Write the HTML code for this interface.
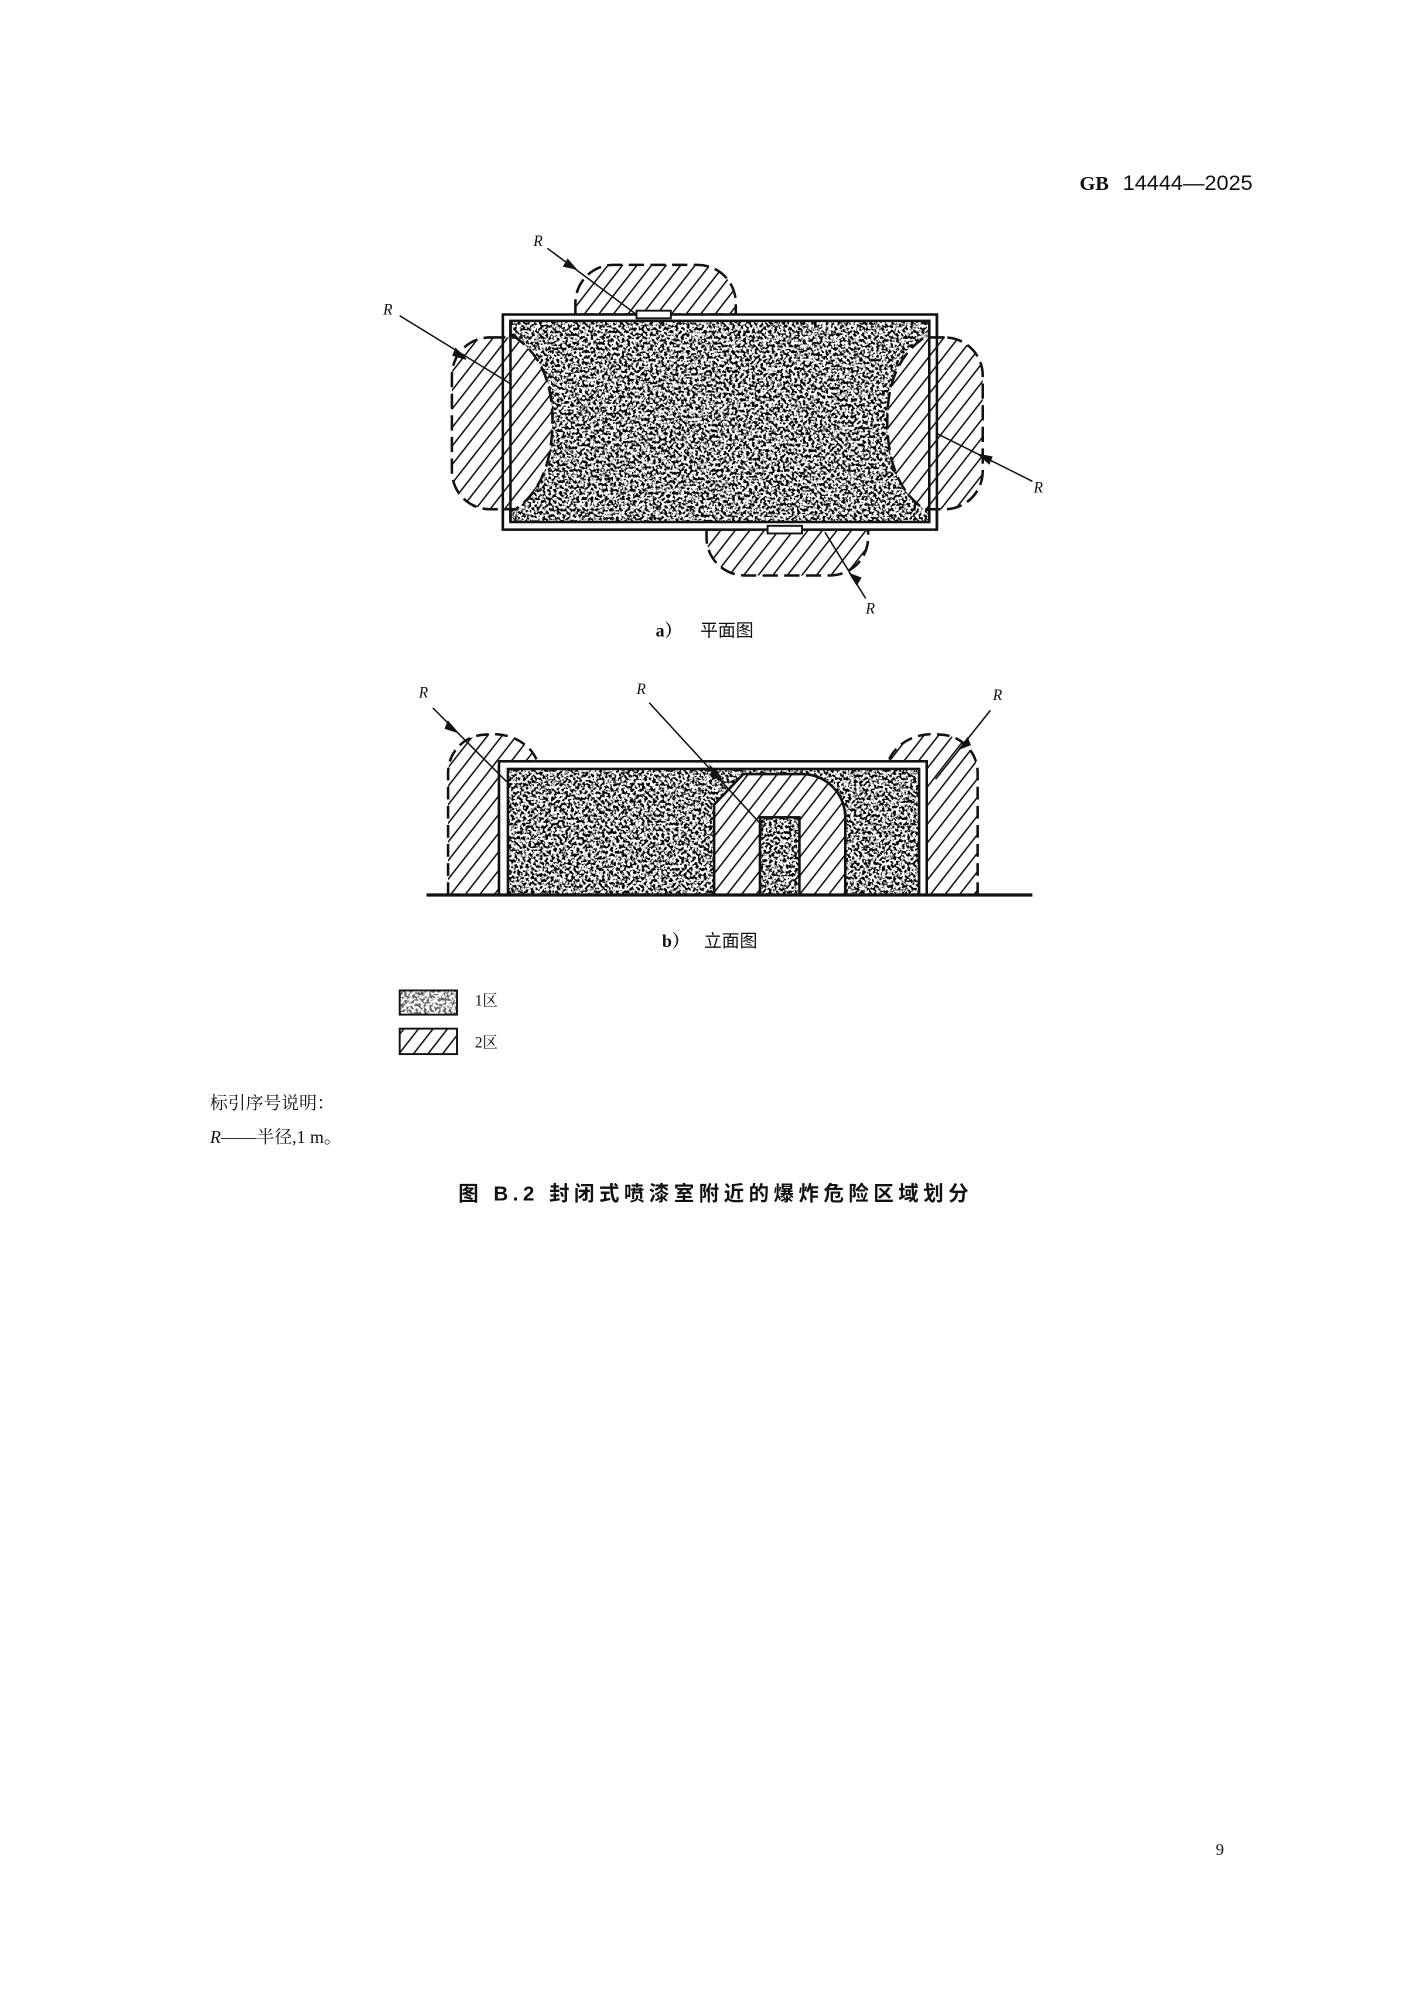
<!DOCTYPE html>
<html><head><meta charset="utf-8"><style>
html,body{margin:0;padding:0;background:#fff;}
svg{display:block;}
text{font-family:"Liberation Serif","Noto Serif CJK SC",serif;fill:#111;}
text.cjk{font-family:"Liberation Sans","Noto Sans CJK SC",sans-serif;}
text.sans{font-family:"Liberation Sans",sans-serif;}
</style></head><body>
<svg width="1413" height="2000" viewBox="0 0 1110 1571" xmlns="http://www.w3.org/2000/svg">
<defs>
<filter id="st" x="0" y="0" width="1" height="1" filterUnits="objectBoundingBox">
<feTurbulence type="fractalNoise" baseFrequency="0.45" numOctaves="2" seed="7"/>
<feColorMatrix type="matrix" values="0 0 0 0 0  0 0 0 0 0  0 0 0 0 0  -7 0 0 0 3.85"/>
</filter>
<pattern id="hatch" width="9" height="9" patternUnits="userSpaceOnUse" patternTransform="rotate(38)">
<rect width="9" height="9" fill="#fff"/>
<line x1="0" y1="0" x2="0" y2="9" stroke="#111" stroke-width="2.4"/>
</pattern>
<clipPath id="planIn"><rect x="401" y="252" width="329" height="158"/></clipPath>
<clipPath id="elevIn"><rect x="399" y="604" width="323" height="99"/></clipPath>
<clipPath id="leg1"><rect x="314" y="778" width="45" height="19"/></clipPath>
</defs>
<rect width="1110" height="1571" fill="#fff"/>

<text x="848" y="149" font-size="16" font-weight="bold">GB</text>
<text x="882" y="149" font-size="17" class="sans">14444—2025</text>

<!-- Plan view -->
<g>
<path d="M452,247 V238 A30,30 0 0 1 482,208 H548 A30,30 0 0 1 578,238 V247 Z" fill="url(#hatch)" stroke="#111" stroke-width="2" stroke-dasharray="12,5"/>
<path d="M555,416 H682 V422 A30,30 0 0 1 652,452 H585 A30,30 0 0 1 555,422 Z" fill="url(#hatch)" stroke="#111" stroke-width="2" stroke-dasharray="12,5"/>
<rect x="395" y="247" width="341" height="169" fill="#fff" stroke="#111" stroke-width="2"/>
<g clip-path="url(#planIn)"><rect x="401" y="252" width="329" height="158" fill="#fff"/><rect x="401" y="252" width="329" height="158" filter="url(#st)"/></g>
<rect x="401" y="252" width="329" height="158" fill="none" stroke="#111" stroke-width="2"/>
<path d="M385,265 H405 Q434,285 434,330 Q434,380 405,400 H385 A30,30 0 0 1 355,370 V295 A30,30 0 0 1 385,265 Z" fill="url(#hatch)" stroke="#111" stroke-width="2" stroke-dasharray="12,5"/>
<path d="M742,265 H726 Q697,285 697,330 Q697,380 726,400 H742 A30,30 0 0 0 772,370 V295 A30,30 0 0 0 742,265 Z" fill="url(#hatch)" stroke="#111" stroke-width="2" stroke-dasharray="12,5"/>
<line x1="395" y1="247" x2="395" y2="416" stroke="#111" stroke-width="2"/>
<line x1="401" y1="252" x2="401" y2="410" stroke="#111" stroke-width="2"/>
<line x1="736" y1="247" x2="736" y2="416" stroke="#111" stroke-width="2"/>
<line x1="730" y1="252" x2="730" y2="410" stroke="#111" stroke-width="2"/>
<rect x="500" y="244" width="27" height="6" fill="#fff" stroke="#111" stroke-width="1.5"/>
<rect x="603" y="413" width="27" height="6" fill="#fff" stroke="#111" stroke-width="1.5"/>
<g stroke="#111" stroke-width="1.2" fill="#111">
<line x1="430" y1="195" x2="500" y2="247"/><polygon points="452,211 446,204 443,209"/>
<line x1="314" y1="248" x2="402" y2="302"/>
<polygon points="366,282 358,274 356,279"/>
<line x1="735" y1="340" x2="811" y2="378"/><polygon points="769,357 777,364 779,359"/>
<line x1="648" y1="418" x2="680" y2="470"/><polygon points="668,451 673,459 676,454"/>
</g>
<text x="419" y="193" font-size="12" font-style="italic">R</text>
<text x="301" y="247" font-size="12" font-style="italic">R</text>
<text x="812" y="387" font-size="12" font-style="italic">R</text>
<text x="680" y="482" font-size="12" font-style="italic">R</text>
<text x="515" y="500" font-size="14" font-weight="bold">a）</text>
<text x="550" y="500" font-size="14" class="cjk">平面图</text>
</g>

<!-- Elevation view -->
<g>
<path d="M352,703 V607 A30,30 0 0 1 382,577 A36,30 0 0 1 422,598 H392 V703 Z" fill="url(#hatch)" stroke="#111" stroke-width="2" stroke-dasharray="10,5"/>
<path d="M768,703 V607 A30,30 0 0 0 738,577 A36,30 0 0 0 698,598 H728 V703 Z" fill="url(#hatch)" stroke="#111" stroke-width="2" stroke-dasharray="10,5"/>
<rect x="392" y="598" width="336" height="105" fill="#fff" stroke="#111" stroke-width="2"/>
<g clip-path="url(#elevIn)"><rect x="399" y="604" width="323" height="99" fill="#fff"/><rect x="399" y="604" width="323" height="99" filter="url(#st)"/></g>
<rect x="399" y="604" width="323" height="99" fill="none" stroke="#111" stroke-width="2"/>
<path d="M561,703 V632 L584,608 H630 A34,34 0 0 1 664,642 V703 Z" fill="url(#hatch)" stroke="#111" stroke-width="2"/>
<g clip-path="url(#elevIn)"><rect x="597" y="642" width="31" height="61" fill="#fff"/><rect x="597" y="642" width="31" height="61" filter="url(#st)"/></g>
<rect x="597" y="642" width="31" height="61" fill="none" stroke="#111" stroke-width="2"/>
<line x1="335" y1="703" x2="811" y2="703" stroke="#111" stroke-width="2.5"/>
<g stroke="#111" stroke-width="1.2" fill="#111">
<line x1="340" y1="556" x2="398" y2="614"/><polygon points="359,575 352,567 350,572"/>
<line x1="510" y1="552" x2="600" y2="650"/><polygon points="566,610 558,602 560,612"/>
<line x1="778" y1="558" x2="735" y2="612"/><polygon points="754,588 760,580 762,585"/>
</g>
<text x="329" y="548" font-size="12" font-style="italic">R</text>
<text x="500" y="545" font-size="12" font-style="italic">R</text>
<text x="780" y="550" font-size="12" font-style="italic">R</text>
<text x="520" y="744" font-size="14" font-weight="bold">b）</text>
<text x="553" y="744" font-size="14" class="cjk">立面图</text>
</g>

<!-- Legend -->
<g clip-path="url(#leg1)"><rect x="314" y="778" width="45" height="19" fill="#fff"/><rect x="314" y="778" width="45" height="19" filter="url(#st)" opacity="0.6"/></g>
<rect x="314" y="778" width="45" height="19" fill="none" stroke="#111" stroke-width="1.5"/>
<rect x="314" y="808" width="45" height="20" fill="url(#hatch)" stroke="#111" stroke-width="1.5"/>
<text x="373" y="790" font-size="12">1区</text>
<text x="373" y="823" font-size="12">2区</text>

<text x="165" y="871" font-size="14">标引序号说明：</text>
<text x="165" y="898" font-size="14"><tspan font-style="italic">R</tspan>——半径,1 m。</text>
<text x="360" y="943" font-size="16" font-weight="bold" class="cjk" letter-spacing="3.6">图 B.2  封闭式喷漆室附近的爆炸危险区域划分</text>

<text x="955" y="1457" font-size="13">9</text>
</svg>
</body></html>
